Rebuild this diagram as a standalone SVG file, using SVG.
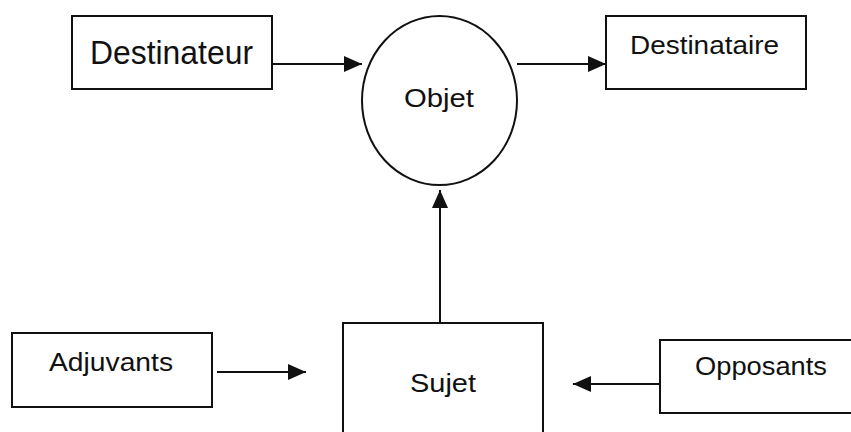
<svg xmlns="http://www.w3.org/2000/svg" width="851" height="432" viewBox="0 0 851 432">
  <style>
    .box { fill: #fff; stroke: #111; stroke-width: 2; }
    .lbl { font-family: "Liberation Sans", Arial, sans-serif; fill: #111; text-anchor: start; }
    .edge { stroke: #111; stroke-width: 2; fill: none; marker-end: url(#head); }
  </style>
  <defs>
    <marker id="head" markerUnits="userSpaceOnUse" markerWidth="20" markerHeight="18" refX="18" refY="8" orient="auto">
      <path d="M0,0 L18,8 L0,16 Z" fill="#111"/>
    </marker>
  </defs>
  <rect width="851" height="432" fill="#fff"/>

  <g id="destinateur">
    <rect class="box" x="72" y="16" width="200" height="73"/>
    <text class="lbl" x="90" y="64" font-size="33" textLength="163" lengthAdjust="spacingAndGlyphs">Destinateur</text>
  </g>
  <g id="objet">
    <ellipse cx="439.5" cy="100.5" rx="77.5" ry="84.5" fill="#fff" stroke="#111" stroke-width="2"/>
    <text class="lbl" x="404" y="107" font-size="26" textLength="70" lengthAdjust="spacingAndGlyphs">Objet</text>
  </g>
  <g id="destinataire">
    <rect class="box" x="606" y="16" width="200" height="73"/>
    <text class="lbl" x="630" y="54" font-size="26" textLength="149" lengthAdjust="spacingAndGlyphs">Destinataire</text>
  </g>
  <g id="adjuvants">
    <rect class="box" x="12" y="333" width="200" height="74"/>
    <text class="lbl" x="49" y="371" font-size="26" textLength="124" lengthAdjust="spacingAndGlyphs">Adjuvants</text>
  </g>
  <g id="sujet">
    <rect class="box" x="343" y="323" width="200" height="130"/>
    <text class="lbl" x="410" y="392" font-size="26" textLength="66" lengthAdjust="spacingAndGlyphs">Sujet</text>
  </g>
  <g id="opposants">
    <rect class="box" x="660" y="340" width="220" height="73"/>
    <text class="lbl" x="695" y="375" font-size="26" textLength="132" lengthAdjust="spacingAndGlyphs">Opposants</text>
  </g>

  <g id="connectors">
    <line class="edge" x1="272" y1="64" x2="362" y2="64"/>
    <line class="edge" x1="517" y1="64" x2="606" y2="64"/>
    <line class="edge" x1="440" y1="323" x2="440" y2="190"/>
    <line class="edge" x1="217" y1="372" x2="306" y2="372"/>
    <line class="edge" x1="660" y1="384" x2="573" y2="384"/>
  </g>
</svg>
